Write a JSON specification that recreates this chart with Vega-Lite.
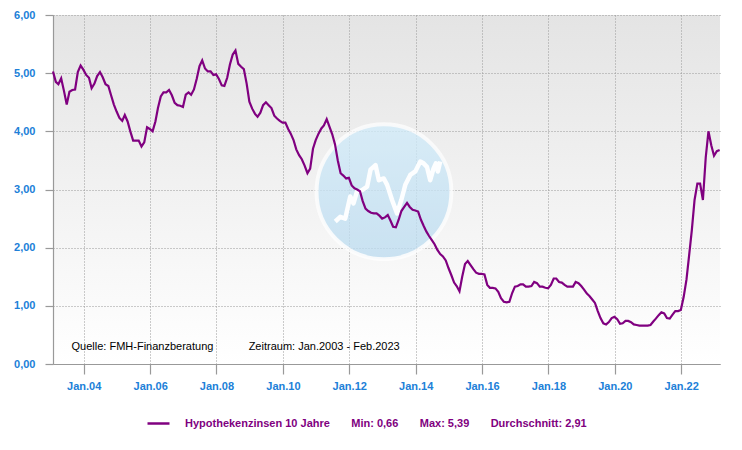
{
  "$schema": "https://vega.github.io/schema/vega-lite/v6.json",
  "width": 667,
  "height": 349,
  "autosize": "none",
  "padding": {"left": 53, "top": 15, "right": 22, "bottom": 86},
  "background": "#ffffff",
  "config": {
    "font": "Liberation Sans",
    "view": {
      "stroke": null,
      "fill": {"gradient": "linear", "x1": 0, "y1": 0, "x2": 0, "y2": 1,
        "stops": [{"offset": 0, "color": "#e4e4e4"}, {"offset": 1, "color": "#ffffff"}]}
    },
    "axis": {
      "title": null,
      "labelFont": "Liberation Sans", "labelFontSize": 11, "labelFontWeight": "bold", "labelColor": "#2080d8",
      "labelOverlap": false, "labelFlush": false,
      "ticks": true, "tickColor": "#999999", "tickWidth": 1.2,
      "domain": true, "domainColor": "#999999", "domainWidth": 1.2,
      "grid": true, "gridColor": "#999999", "gridDash": [1, 2], "gridWidth": 1
    },
    "axisX": {"tickSize": 10, "labelPadding": 6},
    "axisY": {"tickSize": 8, "labelPadding": 10}
  },
  "datasets": {
    "rates": [
      {"d":"2003-01-28","v":5.03},{"d":"2003-02-28","v":4.85},{"d":"2003-03-28","v":4.81},{"d":"2003-04-28","v":4.91},{"d":"2003-05-28","v":4.70},{"d":"2003-06-28","v":4.46},{"d":"2003-07-28","v":4.68},{"d":"2003-08-28","v":4.71},{"d":"2003-09-28","v":4.72},{"d":"2003-10-28","v":5.02},{"d":"2003-11-28","v":5.13},{"d":"2003-12-28","v":5.06},
      {"d":"2004-01-28","v":4.97},{"d":"2004-02-28","v":4.92},{"d":"2004-03-28","v":4.74},{"d":"2004-04-28","v":4.82},{"d":"2004-05-28","v":4.95},{"d":"2004-06-28","v":5.02},{"d":"2004-07-28","v":4.93},{"d":"2004-08-28","v":4.81},{"d":"2004-09-28","v":4.78},{"d":"2004-10-28","v":4.62},{"d":"2004-11-28","v":4.46},{"d":"2004-12-28","v":4.34},
      {"d":"2005-01-28","v":4.23},{"d":"2005-02-28","v":4.18},{"d":"2005-03-28","v":4.28},{"d":"2005-04-28","v":4.17},{"d":"2005-05-28","v":4.00},{"d":"2005-06-28","v":3.84},{"d":"2005-07-28","v":3.84},{"d":"2005-08-28","v":3.84},{"d":"2005-09-28","v":3.74},{"d":"2005-10-28","v":3.81},{"d":"2005-11-28","v":4.07},{"d":"2005-12-28","v":4.04},
      {"d":"2006-01-28","v":4.00},{"d":"2006-02-28","v":4.17},{"d":"2006-03-28","v":4.40},{"d":"2006-04-28","v":4.60},{"d":"2006-05-28","v":4.67},{"d":"2006-06-28","v":4.67},{"d":"2006-07-28","v":4.71},{"d":"2006-08-28","v":4.62},{"d":"2006-09-28","v":4.49},{"d":"2006-10-28","v":4.45},{"d":"2006-11-28","v":4.44},{"d":"2006-12-28","v":4.42},
      {"d":"2007-01-28","v":4.63},{"d":"2007-02-28","v":4.67},{"d":"2007-03-28","v":4.63},{"d":"2007-04-28","v":4.72},{"d":"2007-05-28","v":4.90},{"d":"2007-06-28","v":5.12},{"d":"2007-07-28","v":5.22},{"d":"2007-08-28","v":5.08},{"d":"2007-09-28","v":5.03},{"d":"2007-10-28","v":5.03},{"d":"2007-11-28","v":4.97},{"d":"2007-12-28","v":4.98},
      {"d":"2008-01-28","v":4.90},{"d":"2008-02-28","v":4.79},{"d":"2008-03-28","v":4.78},{"d":"2008-04-28","v":4.92},{"d":"2008-05-28","v":5.15},{"d":"2008-06-28","v":5.32},{"d":"2008-07-28","v":5.39},{"d":"2008-08-28","v":5.16},{"d":"2008-09-28","v":5.11},{"d":"2008-10-28","v":5.07},{"d":"2008-11-28","v":4.82},{"d":"2008-12-28","v":4.51},
      {"d":"2009-01-28","v":4.39},{"d":"2009-02-28","v":4.30},{"d":"2009-03-28","v":4.25},{"d":"2009-04-28","v":4.32},{"d":"2009-05-28","v":4.45},{"d":"2009-06-28","v":4.50},{"d":"2009-07-28","v":4.45},{"d":"2009-08-28","v":4.40},{"d":"2009-09-28","v":4.27},{"d":"2009-10-28","v":4.22},{"d":"2009-11-28","v":4.18},{"d":"2009-12-28","v":4.15},
      {"d":"2010-01-28","v":4.15},{"d":"2010-02-28","v":4.04},{"d":"2010-03-28","v":3.96},{"d":"2010-04-28","v":3.85},{"d":"2010-05-28","v":3.69},{"d":"2010-06-28","v":3.59},{"d":"2010-07-28","v":3.52},{"d":"2010-08-28","v":3.41},{"d":"2010-09-28","v":3.28},{"d":"2010-10-28","v":3.36},{"d":"2010-11-28","v":3.70},{"d":"2010-12-28","v":3.85},
      {"d":"2011-01-28","v":3.96},{"d":"2011-02-28","v":4.05},{"d":"2011-03-28","v":4.10},{"d":"2011-04-28","v":4.21},{"d":"2011-05-28","v":4.08},{"d":"2011-06-28","v":3.95},{"d":"2011-07-28","v":3.78},{"d":"2011-08-28","v":3.50},{"d":"2011-09-28","v":3.28},{"d":"2011-10-28","v":3.24},{"d":"2011-11-28","v":3.19},{"d":"2011-12-28","v":3.20},
      {"d":"2012-01-28","v":3.07},{"d":"2012-02-28","v":3.02},{"d":"2012-03-28","v":3.00},{"d":"2012-04-28","v":2.97},{"d":"2012-05-28","v":2.80},{"d":"2012-06-28","v":2.67},{"d":"2012-07-28","v":2.63},{"d":"2012-08-28","v":2.60},{"d":"2012-09-28","v":2.59},{"d":"2012-10-28","v":2.59},{"d":"2012-11-28","v":2.55},{"d":"2012-12-28","v":2.50},
      {"d":"2013-01-28","v":2.52},{"d":"2013-02-28","v":2.56},{"d":"2013-03-28","v":2.47},{"d":"2013-04-28","v":2.36},{"d":"2013-05-28","v":2.35},{"d":"2013-06-28","v":2.48},{"d":"2013-07-28","v":2.63},{"d":"2013-08-28","v":2.70},{"d":"2013-09-28","v":2.77},{"d":"2013-10-28","v":2.70},{"d":"2013-11-28","v":2.65},{"d":"2013-12-28","v":2.64},
      {"d":"2014-01-28","v":2.62},{"d":"2014-02-28","v":2.48},{"d":"2014-03-28","v":2.38},{"d":"2014-04-28","v":2.28},{"d":"2014-05-28","v":2.20},{"d":"2014-06-28","v":2.13},{"d":"2014-07-28","v":2.06},{"d":"2014-08-28","v":1.96},{"d":"2014-09-28","v":1.89},{"d":"2014-10-28","v":1.85},{"d":"2014-11-28","v":1.78},{"d":"2014-12-28","v":1.65},
      {"d":"2015-01-28","v":1.53},{"d":"2015-02-28","v":1.40},{"d":"2015-03-28","v":1.34},{"d":"2015-04-28","v":1.25},{"d":"2015-05-28","v":1.50},{"d":"2015-06-28","v":1.72},{"d":"2015-07-28","v":1.77},{"d":"2015-08-28","v":1.70},{"d":"2015-09-28","v":1.63},{"d":"2015-10-28","v":1.57},{"d":"2015-11-28","v":1.55},{"d":"2015-12-28","v":1.55},
      {"d":"2016-01-28","v":1.54},{"d":"2016-02-28","v":1.36},{"d":"2016-03-28","v":1.31},{"d":"2016-04-28","v":1.31},{"d":"2016-05-28","v":1.30},{"d":"2016-06-28","v":1.24},{"d":"2016-07-28","v":1.13},{"d":"2016-08-28","v":1.07},{"d":"2016-09-28","v":1.06},{"d":"2016-10-28","v":1.07},{"d":"2016-11-28","v":1.22},{"d":"2016-12-28","v":1.33},
      {"d":"2017-01-28","v":1.34},{"d":"2017-02-28","v":1.37},{"d":"2017-03-28","v":1.37},{"d":"2017-04-28","v":1.33},{"d":"2017-05-28","v":1.33},{"d":"2017-06-28","v":1.34},{"d":"2017-07-28","v":1.41},{"d":"2017-08-28","v":1.39},{"d":"2017-09-28","v":1.33},{"d":"2017-10-28","v":1.33},{"d":"2017-11-28","v":1.31},{"d":"2017-12-28","v":1.30},
      {"d":"2018-01-28","v":1.36},{"d":"2018-02-28","v":1.47},{"d":"2018-03-28","v":1.47},{"d":"2018-04-28","v":1.41},{"d":"2018-05-28","v":1.40},{"d":"2018-06-28","v":1.36},{"d":"2018-07-28","v":1.33},{"d":"2018-08-28","v":1.33},{"d":"2018-09-28","v":1.33},{"d":"2018-10-28","v":1.41},{"d":"2018-11-28","v":1.39},{"d":"2018-12-28","v":1.34},
      {"d":"2019-01-28","v":1.28},{"d":"2019-02-28","v":1.21},{"d":"2019-03-28","v":1.17},{"d":"2019-04-28","v":1.11},{"d":"2019-05-28","v":1.05},{"d":"2019-06-28","v":0.91},{"d":"2019-07-28","v":0.79},{"d":"2019-08-28","v":0.70},{"d":"2019-09-28","v":0.68},{"d":"2019-10-28","v":0.72},{"d":"2019-11-28","v":0.79},{"d":"2019-12-28","v":0.81},
      {"d":"2020-01-28","v":0.77},{"d":"2020-02-28","v":0.69},{"d":"2020-03-28","v":0.70},{"d":"2020-04-28","v":0.74},{"d":"2020-05-28","v":0.74},{"d":"2020-06-28","v":0.72},{"d":"2020-07-28","v":0.68},{"d":"2020-08-28","v":0.67},{"d":"2020-09-28","v":0.66},{"d":"2020-10-28","v":0.66},{"d":"2020-11-28","v":0.66},{"d":"2020-12-28","v":0.66},
      {"d":"2021-01-28","v":0.67},{"d":"2021-02-28","v":0.73},{"d":"2021-03-28","v":0.78},{"d":"2021-04-28","v":0.84},{"d":"2021-05-28","v":0.89},{"d":"2021-06-28","v":0.87},{"d":"2021-07-28","v":0.79},{"d":"2021-08-28","v":0.78},{"d":"2021-09-28","v":0.85},{"d":"2021-10-28","v":0.91},{"d":"2021-11-28","v":0.91},{"d":"2021-12-28","v":0.93},
      {"d":"2022-01-28","v":1.15},{"d":"2022-02-28","v":1.45},{"d":"2022-03-28","v":1.85},{"d":"2022-04-28","v":2.30},{"d":"2022-05-28","v":2.82},{"d":"2022-06-28","v":3.10},{"d":"2022-07-28","v":3.10},{"d":"2022-08-28","v":2.82},{"d":"2022-09-28","v":3.55},{"d":"2022-10-28","v":4.00},{"d":"2022-11-28","v":3.76},{"d":"2022-12-28","v":3.58},
      {"d":"2023-01-28","v":3.66},{"d":"2023-02-28","v":3.68}
    ],
    "logo": [
      {"d":"2011-07-31","v":2.45},{"d":"2011-09-24","v":2.53},{"d":"2011-11-18","v":2.50},{"d":"2012-01-12","v":2.88},{"d":"2012-02-17","v":2.76},{"d":"2012-03-25","v":2.96},{"d":"2012-05-22","v":2.99},{"d":"2012-07-16","v":3.05},{"d":"2012-08-22","v":3.34},{"d":"2012-10-16","v":3.42},{"d":"2012-11-22","v":3.16},{"d":"2013-01-15","v":3.19},{"d":"2013-02-21","v":3.08},{"d":"2013-04-16","v":2.82},{"d":"2013-06-10","v":2.59},{"d":"2013-07-27","v":2.82},{"d":"2013-09-09","v":3.08},{"d":"2013-11-03","v":3.25},{"d":"2013-12-28","v":3.31},{"d":"2014-02-21","v":3.48},{"d":"2014-03-29","v":3.45},{"d":"2014-05-05","v":3.39},{"d":"2014-06-10","v":3.16},{"d":"2014-07-16","v":3.36},{"d":"2014-08-11","v":3.45},{"d":"2014-09-02","v":3.31},{"d":"2014-09-28","v":3.48}
    ]
  },
  "layer": [
    {
      "data": {"values": [{}]},
      "mark": {"type": "point", "filled": true, "size": 18200, "opacity": 0.78,
        "fill": {"gradient": "linear", "x1": 0, "y1": 0, "x2": 0, "y2": 1,
          "stops": [{"offset": 0, "color": "#d2ecfa"}, {"offset": 1, "color": "#bddcf0"}]},
        "stroke": "#ffffff", "strokeWidth": 4, "strokeOpacity": 0.9},
      "encoding": {
        "x": {"datum": {"year": 2013, "month": 1, "date": 17, "utc": true}, "type": "temporal",
          "scale": {"type": "utc", "domain": [{"year": 2003, "month": 1, "date": 28, "utc": true}, {"year": 2023, "month": 3, "date": 4, "utc": true}]}},
        "y": {"datum": 2.96, "type": "quantitative", "scale": {"domain": [0, 6], "nice": false, "zero": true}}
      }
    },
    {
      "data": {"name": "logo"},
      "mark": {"type": "line", "stroke": "#ffffff", "strokeWidth": 4.5, "opacity": 0.95, "strokeJoin": "round"},
      "encoding": {
        "x": {"field": "d", "type": "temporal", "scale": {"type": "utc", "domain": [{"year": 2003, "month": 1, "date": 28, "utc": true}, {"year": 2023, "month": 3, "date": 4, "utc": true}]}},
        "y": {"field": "v", "type": "quantitative", "scale": {"domain": [0, 6], "nice": false, "zero": true}}
      }
    },
    {
      "data": {"name": "rates"},
      "mark": {"type": "line", "strokeWidth": 2.2, "interpolate": "linear"},
      "encoding": {
        "x": {"field": "d", "type": "temporal",
          "scale": {"type": "utc", "domain": [{"year": 2003, "month": 1, "date": 28, "utc": true}, {"year": 2023, "month": 3, "date": 4, "utc": true}]},
          "axis": {
            "values": [
              {"year": 2004, "month": 1, "date": 1, "utc": true},
              {"year": 2006, "month": 1, "date": 1, "utc": true},
              {"year": 2008, "month": 1, "date": 1, "utc": true},
              {"year": 2010, "month": 1, "date": 1, "utc": true},
              {"year": 2012, "month": 1, "date": 1, "utc": true},
              {"year": 2014, "month": 1, "date": 1, "utc": true},
              {"year": 2016, "month": 1, "date": 1, "utc": true},
              {"year": 2018, "month": 1, "date": 1, "utc": true},
              {"year": 2020, "month": 1, "date": 1, "utc": true},
              {"year": 2022, "month": 1, "date": 1, "utc": true}
            ],
            "labelExpr": "'Jan.' + utcFormat(datum.value, '%y')"
          }
        },
        "y": {"field": "v", "type": "quantitative",
          "scale": {"domain": [0, 6], "nice": false, "zero": true},
          "axis": {
            "values": [0, 0.5, 1, 1.5, 2, 2.5, 3, 3.5, 4, 4.5, 5, 5.5, 6],
            "labelExpr": "replace(format(datum.value, '.2f'), '.', ',')"
          }
        },
        "color": {"datum": "Hypothekenzinsen 10 Jahre", "type": "nominal",
          "scale": {"range": ["#800080"]},
          "legend": {
            "title": null, "orient": "none", "legendX": 93, "legendY": 396,
            "symbolType": "stroke", "symbolSize": 484, "symbolStrokeWidth": 2.5, "symbolStrokeColor": "#800080",
            "labelFont": "Liberation Sans", "labelFontSize": 11, "labelFontWeight": "bold", "labelColor": "#800080",
            "labelOffset": 14, "labelLimit": 0,
            "labelExpr": "datum.label + '\u00a0\u00a0\u00a0\u00a0\u00a0\u00a0\u00a0Min: 0,66\u00a0\u00a0\u00a0\u00a0\u00a0\u00a0\u00a0Max: 5,39\u00a0\u00a0\u00a0\u00a0\u00a0\u00a0\u00a0Durchschnitt: 2,91'"
          }
        }
      }
    },
    {
      "data": {"values": [{}]},
      "mark": {"type": "text", "text": "Quelle: FMH-Finanzberatung", "align": "left", "baseline": "middle",
        "font": "Liberation Sans", "fontSize": 11, "color": "#000000"},
      "encoding": {
        "x": {"datum": {"year": 2003, "month": 8, "date": 20, "utc": true}, "type": "temporal", "scale": {"type": "utc", "domain": [{"year": 2003, "month": 1, "date": 28, "utc": true}, {"year": 2023, "month": 3, "date": 4, "utc": true}]}},
        "y": {"datum": 0.287, "type": "quantitative", "scale": {"domain": [0, 6], "nice": false, "zero": true}}
      }
    },
    {
      "data": {"values": [{}]},
      "mark": {"type": "text", "text": "Zeitraum: Jan.2003 - Feb.2023", "align": "left", "baseline": "middle",
        "font": "Liberation Sans", "fontSize": 11, "color": "#000000"},
      "encoding": {
        "x": {"datum": {"year": 2008, "month": 12, "date": 20, "utc": true}, "type": "temporal", "scale": {"type": "utc", "domain": [{"year": 2003, "month": 1, "date": 28, "utc": true}, {"year": 2023, "month": 3, "date": 4, "utc": true}]}},
        "y": {"datum": 0.287, "type": "quantitative", "scale": {"domain": [0, 6], "nice": false, "zero": true}}
      }
    }
  ]
}
